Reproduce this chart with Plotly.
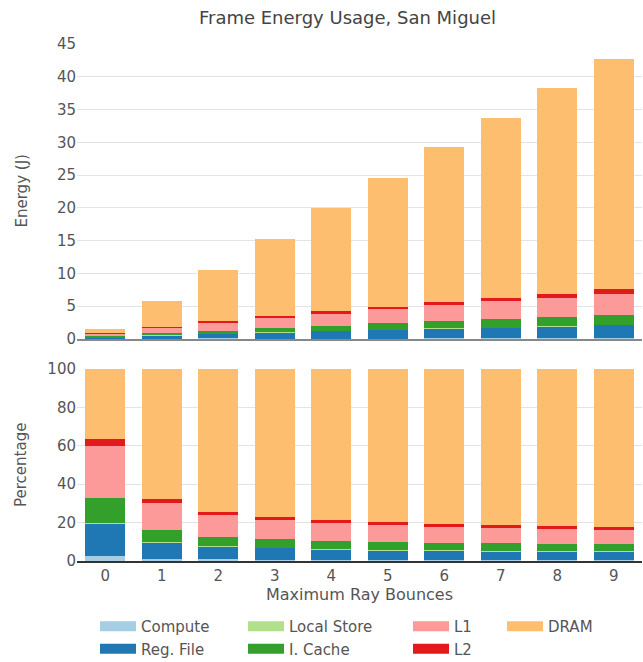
import numpy as np
import plotly.graph_objects as go
from plotly.subplots import make_subplots

bounces = [0, 1, 2, 3, 4, 5, 6, 7, 8, 9]

components = ["Compute", "Reg. File", "Local Store", "I. Cache", "L1", "L2", "DRAM"]
colors = ["#a6cee3", "#1f78b4", "#b2df8a", "#33a02c", "#fb9a99", "#e31a1c", "#fdbf6f"]

# energy per component in joules
compute     = [0.036, 0.052, 0.095, 0.046, 0.06, 0.074, 0.088, 0.10, 0.115, 0.128]
reg_file    = [0.257, 0.493, 0.672, 0.988, 1.16, 1.30, 1.55, 1.58, 1.80, 2.01]
local_store = [0.006, 0.017, 0.032, 0.015, 0.02, 0.025, 0.029, 0.034, 0.038, 0.043]
i_cache     = [0.195, 0.365, 0.494, 0.669, 0.82, 0.98, 1.03, 1.38, 1.38, 1.54]
l1          = [0.404, 0.818, 1.21, 1.50, 1.88, 2.18, 2.46, 2.63, 2.98, 3.12]
l2          = [0.056, 0.122, 0.168, 0.243, 0.30, 0.39, 0.44, 0.54, 0.61, 0.80]
dram        = [0.548, 3.93, 7.83, 11.73, 15.76, 19.55, 23.70, 27.43, 31.29, 35.07]

series = [compute, reg_file, local_store, i_cache, l1, l2, dram]

FONT = "DejaVu Sans"
TXT = "#555555"
W, H = 643, 662

energy = np.array(series, dtype=float)
percent = energy / energy.sum(axis=0) * 100

fig = make_subplots(rows=2, cols=1, shared_xaxes=True, vertical_spacing=0.0)

for name, col, e, p in zip(components, colors, energy, percent):
    fig.add_trace(go.Bar(x=bounces, y=e, name=name, marker=dict(color=col, line_width=0),
                         showlegend=False), row=1, col=1)
    fig.add_trace(go.Bar(x=bounces, y=p, name=name, marker=dict(color=col, line_width=0),
                         showlegend=False), row=2, col=1)

# legend swatches: four columns of two entries
legend_cols = [["Compute", "Reg. File"], ["Local Store", "I. Cache"], ["L1", "L2"], ["DRAM"]]
legend_ids = ["legend", "legend2", "legend3", "legend4"]
for lid, names in zip(legend_ids, legend_cols):
    for nm in names:
        fig.add_trace(go.Scatter(x=[None], y=[None], mode="lines", name=nm,
                                 line=dict(color=colors[components.index(nm)], width=13),
                                 legend=lid), row=2, col=1)

left_px, right_px = 77, 642
top_px, bottom_px = 44, 561
plot_w = right_px - left_px
plot_h = bottom_px - top_px
col_px = [95, 243, 408, 502]
legend_style = dict(orientation="v", xref="container", yref="container",
                    yanchor="top", xanchor="left", y=1 - 610 / H, itemwidth=36,
                    traceorder="normal",
                    font=dict(family=FONT, size=15, color=TXT), bgcolor="rgba(0,0,0,0)")
legends = {lid: dict(legend_style, x=px / W) for lid, px in zip(legend_ids, col_px)}

top_dom = [(bottom_px - 339) / plot_h, 1]
bot_dom = [0, 192 / plot_h]

# y axis titles as rotated annotations (plotly misplaces them with automargin off)
ytitle_x = (21 - left_px) / plot_w
ytitles = [
    dict(text="Energy (J)", x=ytitle_x, y=sum(top_dom) / 2),
    dict(text="Percentage", x=ytitle_x, y=sum(bot_dom) / 2),
]
annotations = [dict(a, xref="paper", yref="paper", xanchor="center", yanchor="middle",
                    textangle=-90, showarrow=False, font=dict(size=15, color=TXT))
               for a in ytitles]

fig.update_layout(
    barmode="stack",
    bargap=0.293,
    width=W, height=H,
    margin=dict(l=left_px, r=W - right_px, t=top_px, b=H - bottom_px, autoexpand=False),
    paper_bgcolor="white", plot_bgcolor="white",
    font=dict(family=FONT, size=15, color=TXT),
    title=dict(text="Frame Energy Usage, San Miguel", xref="container", x=347.5 / W,
               xanchor="center", yref="container", y=1 - 18 / H, yanchor="middle",
               font=dict(size=18, color="#444444")),
    annotations=annotations,
    **legends,
)

fig.update_yaxes(domain=top_dom, range=[0, 45], dtick=5, row=1, col=1)
fig.update_yaxes(domain=bot_dom, range=[0, 100], dtick=20, row=2, col=1)
fig.update_yaxes(gridcolor="#e3e3e3", gridwidth=1, zeroline=False, ticks="", automargin=False,
                 tickfont=dict(size=15, color=TXT))
fig.update_xaxes(range=[-0.5, 9.5], showline=True, linewidth=2, automargin=False,
                 ticks="", showgrid=False, tickmode="array", tickvals=bounces,
                 tickfont=dict(size=15, color=TXT))
fig.update_xaxes(linecolor="#888888", row=1, col=1)
fig.update_xaxes(linecolor="#333333", row=2, col=1,
                 title=dict(text="Maximum Ray Bounces", standoff=0,
                            font=dict(size=16, color=TXT)))

# the page body has a default margin; remove it so the figure sits at the corner
fig.write_html("out.html", config={"displayModeBar": False},
               post_script="document.body.style.margin='0';")
